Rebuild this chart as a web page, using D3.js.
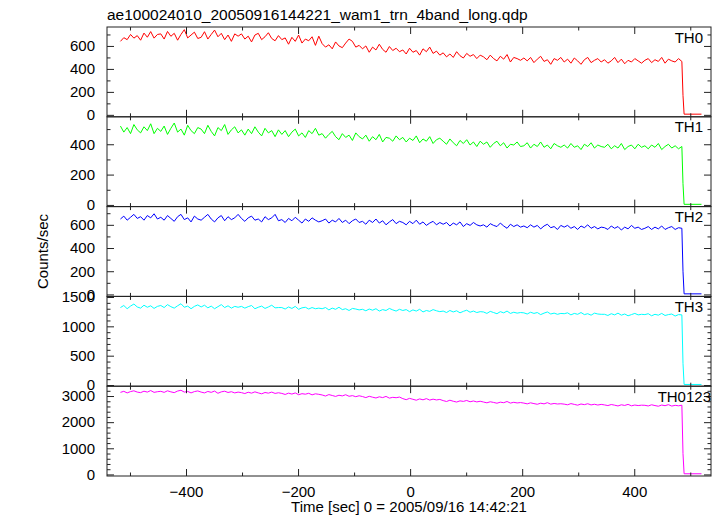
<!DOCTYPE html>
<html><head><meta charset="utf-8">
<script src="https://cdn.jsdelivr.net/npm/d3@7"></script>
<style>body{margin:0;background:#fff}svg{display:block;font-family:"Liberation Sans",Arial,sans-serif}</style>
</head><body><svg id="c" width="717" height="516"></svg>
<script>
const title = "ae100024010_20050916144221_wam1_trn_4band_long.qdp";
const xLabel = "Time [sec] 0 = 2005/09/16 14:42:21";
const yLabel = "Counts/sec";
const panelNames = ["TH0", "TH1", "TH2", "TH3", "TH0123"];
const colors = ["#ff0000", "#00ff00", "#0000ff", "#00ffff", "#ff00ff"];

// binned light curve: bin start time and width (sec)
const binStart = -517, binWidth = 6;

const th0 = [
 640,672,655,700,668,690,650,712,676,725,668,700,
 705,660,726,684,710,650,700,742,670,695,720,665,
 675,724,660,700,738,680,710,655,695,640,705,685,
 705,660,685,635,695,710,655,680,715,665,645,690,
 655,670,615,675,640,695,625,660,645,680,605,685,
 620,590,610,575,635,600,585,625,660,640,590,605,
 575,600,545,590,565,615,570,545,595,560,580,550,
 565,530,580,545,560,520,575,550,590,535,555,520,
 540,505,530,500,550,515,495,535,510,525,490,520,
 505,480,520,490,470,510,485,525,460,500,490,475,
 495,470,500,455,485,510,465,480,440,490,475,500,
 460,485,450,495,470,440,480,500,455,475,490,460,
 480,450,470,500,455,485,445,475,460,490,470,450,
 475,490,455,480,465,500,450,485,470,460,490,465];
const th1 = [
 520,480,510,470,530,495,475,515,490,535,470,505,
 485,520,465,505,540,480,500,460,525,490,470,510,
 500,470,525,485,455,510,490,530,465,495,515,475,
 495,460,500,470,515,480,455,505,475,490,450,495,
 465,490,450,480,500,455,475,445,490,470,505,460,
 470,440,465,485,450,430,470,445,460,425,475,450,
 435,460,420,450,430,465,415,445,440,420,455,430,
 445,415,440,425,455,410,435,420,450,405,430,440,
 420,400,435,410,390,425,405,430,395,415,385,420,
 400,415,380,405,420,390,410,375,400,395,415,385,
 390,410,375,400,385,415,380,395,370,405,390,380,
 395,375,405,380,390,365,400,385,410,375,395,385,
 380,400,370,390,375,405,365,385,395,370,400,380,
 390,370,395,380,405,365,385,400,375,390,370,385];
const th2 = [
 650,675,640,665,690,655,670,640,680,660,695,650,
 665,640,680,655,630,670,690,645,660,625,675,650,
 640,665,690,650,625,660,680,635,670,645,660,690,
 655,630,660,675,640,650,625,670,645,660,690,635,
 645,620,655,635,665,640,615,650,630,660,640,625,
 635,650,615,640,625,655,620,640,610,635,650,620,
 630,605,640,620,650,615,635,600,625,645,610,630,
 620,600,630,610,640,605,625,595,615,630,600,620,
 605,620,590,615,600,625,585,610,595,620,600,590,
 600,580,610,595,585,615,590,570,605,585,600,580,
 590,575,600,580,595,565,590,605,575,585,560,595,
 580,595,570,585,560,590,575,600,570,585,565,580,
 575,560,590,570,585,555,580,565,595,570,580,560,
 570,585,560,580,565,590,560,575,585,560,575,570];
const th3 = [
 1320,1355,1300,1345,1380,1330,1310,1360,1325,1350,1305,1340,
 1355,1320,1370,1335,1310,1350,1385,1325,1345,1300,1340,1365,
 1330,1360,1315,1345,1300,1335,1370,1320,1350,1310,1340,1325,
 1340,1310,1335,1355,1300,1325,1345,1305,1330,1360,1315,1320,
 1320,1295,1330,1305,1340,1290,1315,1325,1295,1320,1300,1310,
 1300,1320,1280,1310,1290,1325,1285,1300,1270,1305,1295,1280,
 1290,1265,1295,1275,1300,1260,1285,1270,1305,1280,1260,1290,
 1270,1285,1250,1280,1260,1290,1245,1270,1255,1285,1265,1250,
 1260,1235,1270,1245,1265,1230,1255,1275,1240,1260,1235,1250,
 1245,1220,1255,1235,1215,1250,1230,1260,1220,1240,1225,1235,
 1230,1210,1240,1220,1235,1200,1225,1245,1210,1225,1205,1220,
 1215,1230,1195,1220,1205,1235,1200,1215,1190,1225,1210,1205,
 1205,1185,1215,1195,1225,1190,1210,1180,1200,1220,1195,1205,
 1200,1215,1180,1205,1190,1220,1185,1200,1210,1175,1200,1195];
const th0123 = [
 3140,3180,3120,3170,3200,3150,3130,3185,3150,3210,3140,3165,
 3180,3140,3200,3160,3130,3190,3220,3150,3175,3120,3170,3195,
 3150,3120,3175,3140,3190,3105,3160,3185,3135,3165,3120,3150,
 3130,3095,3145,3110,3160,3120,3085,3135,3110,3150,3100,3125,
 3100,3060,3110,3075,3120,3050,3090,3070,3105,3045,3085,3065,
 3040,3000,3055,3020,2985,3030,3005,3050,2990,3015,2975,3010,
 2980,2940,2990,2955,2925,2970,2940,2985,2920,2950,2935,2960,
 2900,2860,2910,2875,2840,2890,2855,2900,2845,2880,2850,2870,
 2825,2790,2840,2800,2770,2815,2795,2830,2780,2810,2775,2800,
 2770,2740,2780,2755,2725,2765,2745,2790,2730,2760,2735,2750,
 2730,2700,2740,2710,2685,2725,2700,2745,2690,2715,2695,2705,
 2690,2665,2710,2680,2650,2695,2670,2705,2660,2685,2655,2680,
 2660,2635,2675,2650,2620,2665,2640,2680,2625,2655,2635,2650,
 2645,2620,2665,2635,2610,2655,2630,2670,2615,2645,2625,2650];

// after the end of the observation the rates fall to ~0
const tailTimes = [487, 489, 520];
const tailTH0 = [170, 6, 6];
const tailTH1 = [140, 4, 4];
const tailTH2 = [200, 5, 5];
const tailTH3 = [370, 10, 10];
const tailTH0123 = [800, 25, 25];

const xDomain = [-541, 537];
const xMajorStep = 200, xMinorStep = 100;
const yDomains = [[-17, 765], [-11, 581], [-17, 757], [-20, 1510], [-60, 3376]];
const yMajorSteps = [200, 200, 200, 500, 1000];
const yMinorSteps = [100, 100, 100, 100, 200];

const series = [th0, th1, th2, th3, th0123];
const tails = [tailTH0, tailTH1, tailTH2, tailTH3, tailTH0123];

// ---- layout ----
const L = 107, R = 711, T = 27, B = 476;
const ph = (B - T) / 5;
const svg = d3.select("#c");
const x = d3.scaleLinear().domain(xDomain).range([L, R]);
const fmt = d3.format("");

function stepTicks(dom, step) {
  return d3.range(Math.ceil(dom[0] / step) * step, dom[1] + 1e-9, step);
}
const xMaj = stepTicks(xDomain, xMajorStep);
const xMin = stepTicks(xDomain, xMinorStep).filter(v => v % xMajorStep !== 0);

series.forEach((vals, i) => {
  const top = T + i * ph, bot = top + ph;
  const y = d3.scaleLinear().domain(yDomains[i]).range([bot, top]);
  const pts = vals.map((v, k) => [binStart + k * binWidth, v])
    .concat(tailTimes.map((t, k) => [t, tails[i][k]]));
  svg.append("path").datum(pts)
    .attr("fill", "none").attr("stroke", colors[i]).attr("stroke-width", 1)
    .attr("d", d3.line().x(d => x(d[0])).y(d => y(d[1])));

  const yMaj = stepTicks(yDomains[i], yMajorSteps[i]);
  const yMin = stepTicks(yDomains[i], yMinorSteps[i]).filter(v => v % yMajorSteps[i] !== 0);

  const axes = [
    svg.append("g").attr("transform", `translate(${L},0)`).call(d3.axisLeft(y).tickValues(yMaj).tickFormat(fmt).tickSize(-7).tickPadding(12)),
    svg.append("g").attr("transform", `translate(${L},0)`).call(d3.axisLeft(y).tickValues(yMin).tickFormat("").tickSize(-3.5)),
    svg.append("g").attr("transform", `translate(${R},0)`).call(d3.axisRight(y).tickValues(yMaj).tickFormat("").tickSize(-7)),
    svg.append("g").attr("transform", `translate(${R},0)`).call(d3.axisRight(y).tickValues(yMin).tickFormat("").tickSize(-3.5)),
    svg.append("g").attr("transform", `translate(0,${top})`).call(d3.axisTop(x).tickValues(xMaj).tickFormat("").tickSize(-7)),
    svg.append("g").attr("transform", `translate(0,${top})`).call(d3.axisTop(x).tickValues(xMin).tickFormat("").tickSize(-3.5)),
    svg.append("g").attr("transform", `translate(0,${bot})`).call(d3.axisBottom(x).tickValues(xMaj).tickFormat(i === 4 ? fmt : "").tickSize(-7).tickPadding(10)),
    svg.append("g").attr("transform", `translate(0,${bot})`).call(d3.axisBottom(x).tickValues(xMin).tickFormat("").tickSize(-3.5))
  ];
  axes.forEach(g => {
    g.select(".domain").remove();
    g.selectAll("line").attr("stroke", "#222");
    g.selectAll("text").attr("font-size", 15).attr("fill", "#000")
      .attr("font-family", '"Liberation Sans",Arial,sans-serif');
  });

  svg.append("rect").attr("x", L).attr("y", top).attr("width", R - L).attr("height", ph)
    .attr("fill", "none").attr("stroke", "#222").attr("stroke-width", 1);

  svg.append("text").attr("x", i === 4 ? 711 : 703).attr("y", top + 15.5)
    .attr("text-anchor", "end").attr("font-size", 15).text(panelNames[i]);
});

svg.append("text").attr("x", L).attr("y", 20).attr("font-size", 15.5).text(title);
svg.append("text").attr("x", (L + R) / 2).attr("y", 512).attr("text-anchor", "middle")
  .attr("font-size", 15).text(xLabel);
svg.append("text").attr("transform", `translate(48,${(T + B) / 2}) rotate(-90)`)
  .attr("text-anchor", "middle").attr("font-size", 15).text(yLabel);
</script></body></html>
